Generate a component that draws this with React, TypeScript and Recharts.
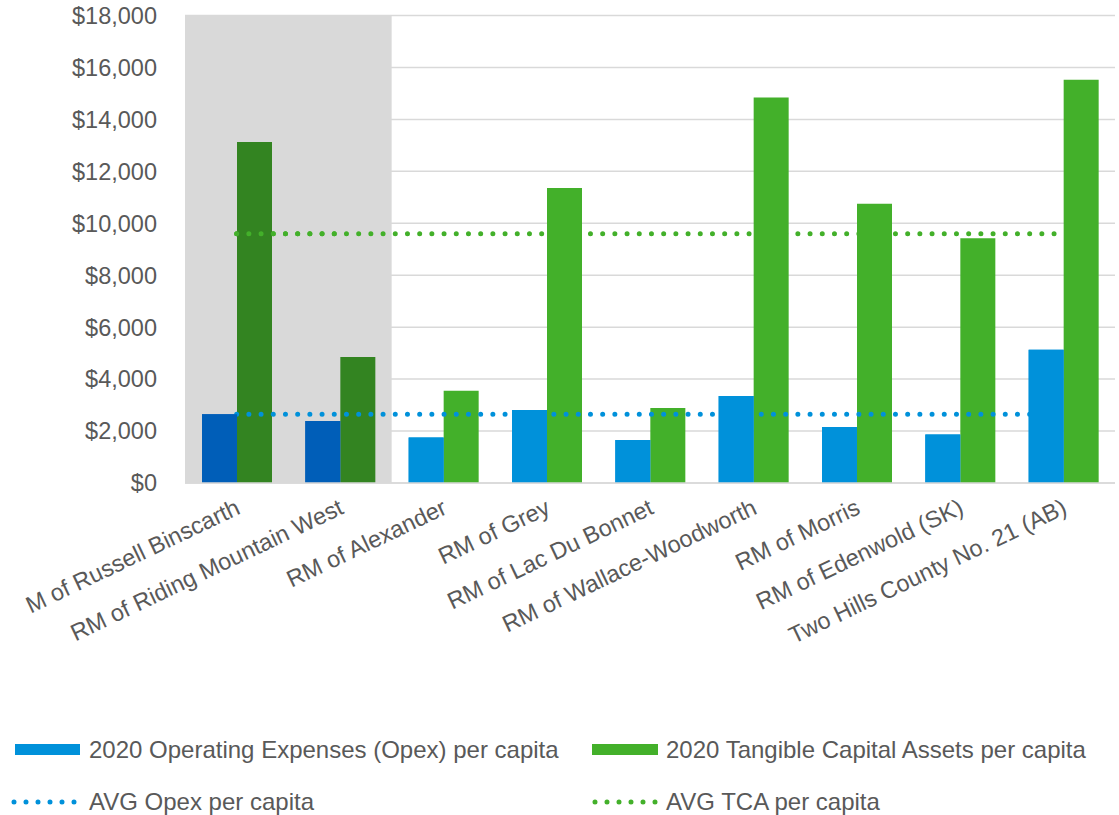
import {
  ComposedChart, Bar, Line, XAxis, YAxis, CartesianGrid, ReferenceArea, Legend, Cell
} from 'recharts';

const CATEGORIES = [
  'M of Russell Binscarth',
  'RM of Riding Mountain West',
  'RM of Alexander',
  'RM of Grey',
  'RM of Lac Du Bonnet',
  'RM of Wallace-Woodworth',
  'RM of Morris',
  'RM of Edenwold (SK)',
  'Two Hills County No. 21 (AB)',
];
const OPEX = [2650, 2390, 1750, 2810, 1660, 3350, 2160, 1870, 5130];
const TCA = [13130, 4850, 3550, 11360, 2890, 14840, 10750, 9420, 15530];
const AVG_OPEX = 2645;
const AVG_TCA = 9600;
const HIGHLIGHTED = [true, true, false, false, false, false, false, false, false];
const Y_TICKS = [0, 2000, 4000, 6000, 8000, 10000, 12000, 14000, 16000, 18000];

const SERIES_NAMES = {
  opex: '2020 Operating Expenses (Opex) per capita',
  tca: '2020 Tangible Capital Assets per capita',
  avgOpex: 'AVG Opex per capita',
  avgTca: 'AVG TCA per capita',
};

const BLUE = '#0091da';
const BLUE_DARK = '#005eb8';
const GREEN = '#43b02a';
const GREEN_DARK = '#338421';
const TEXT = '#595959';
const GRID = '#d9d9d9';
const FONT = '"Liberation Sans", Arial, sans-serif';

const data = CATEGORIES.map((name, i) => ({
  name,
  opex: OPEX[i],
  tca: TCA[i],
  avgOpex: AVG_OPEX,
  avgTca: AVG_TCA,
  avgTcaHl: HIGHLIGHTED[i] ? AVG_TCA : null,
}));

const fmt = (v: number) => `$${v.toLocaleString('en-US')}`;

function CategoryTick({ x, y, payload }: any) {
  const ax = x + 5;
  const ay = y + 30;
  return (
    <text x={ax} y={ay} transform={`rotate(-25.5, ${ax}, ${ay})`} textAnchor="end"
      fill={TEXT} fontSize={23.5} fontFamily={FONT}>
      {payload.value}
    </text>
  );
}

const Dots = ({ color }: { color: string }) => (
  <svg width={66} height={10} style={{ position: 'absolute', left: 0, top: 10 }}>
    <line x1={3} y1={5} x2={66} y2={5} stroke={color} strokeWidth={5}
      strokeDasharray="0 12" strokeLinecap="round" />
  </svg>
);

function ChartLegend() {
  const item = (left: number, top: number, icon: React.ReactNode, label: string, textLeft: number) => (
    <div style={{ position: 'absolute', left, top, height: 30, width: 520 }}>
      {icon}
      <span style={{ position: 'absolute', left: textLeft, top: 0, lineHeight: '30px', fontSize: 24, color: TEXT, whiteSpace: 'nowrap' }}>
        {label}
      </span>
    </div>
  );
  return (
    <div style={{ position: 'relative', width: 1119, height: 80, fontFamily: FONT }}>
      {item(15, 0, <div style={{ position: 'absolute', left: 0, top: 9, width: 65, height: 11, background: BLUE }} />, SERIES_NAMES.opex, 74)}
      {item(592, 0, <div style={{ position: 'absolute', left: 0, top: 9, width: 66, height: 11, background: GREEN }} />, SERIES_NAMES.tca, 74)}
      {item(11, 52, <Dots color={BLUE} />, SERIES_NAMES.avgOpex, 78)}
      {item(592, 52, <Dots color={GREEN} />, SERIES_NAMES.avgTca, 74)}
    </div>
  );
}

export default function App() {
  return (
    <div style={{ position: 'absolute', left: 0, top: 0 }}>
      <ComposedChart width={1119} height={815} data={data}
        margin={{ top: 15.5, right: 4, left: 0, bottom: 0 }}
        barGap={0} barSize={35} style={{ fontFamily: FONT }}>
        <CartesianGrid vertical={false} stroke={GRID} strokeWidth={1.5} />
        <ReferenceArea x1={CATEGORIES[0]} x2={CATEGORIES[1]} fill={GRID} fillOpacity={1} stroke="none" />
        <XAxis dataKey="name" interval={0} height={252} tickSize={0} tickMargin={0}
          axisLine={{ stroke: GRID, strokeWidth: 1.5 }} tickLine={false} tick={<CategoryTick />} />
        <XAxis xAxisId="ov" dataKey="name" hide />
        <YAxis domain={[0, 18000]} ticks={Y_TICKS} tickFormatter={fmt} width={185}
          axisLine={false} tickLine={false} tickSize={0} tickMargin={28}
          tick={{ fill: TEXT, fontSize: 23.5, fontFamily: FONT }} />
        <Legend verticalAlign="bottom" content={() => <ChartLegend />}
          wrapperStyle={{ left: 0, bottom: 0, width: 1119, height: 80 }} />

        <Line dataKey="avgTca" name={SERIES_NAMES.avgTca} stroke={GREEN} strokeWidth={5}
          strokeDasharray="0 12.2" strokeLinecap="round" dot={false} activeDot={false}
          isAnimationActive={false} zIndex={290} />
        <Bar dataKey="opex" name={SERIES_NAMES.opex} fill={BLUE} isAnimationActive={false} zIndex={300}>
          {data.map((d, i) => <Cell key={d.name} fill={HIGHLIGHTED[i] ? BLUE_DARK : BLUE} />)}
        </Bar>
        <Bar dataKey="tca" name={SERIES_NAMES.tca} fill={GREEN} isAnimationActive={false} zIndex={300}>
          {data.map((d, i) => <Cell key={d.name} fill={HIGHLIGHTED[i] ? GREEN_DARK : GREEN} />)}
        </Bar>
        <Line dataKey="avgOpex" name={SERIES_NAMES.avgOpex} stroke={BLUE} strokeWidth={5}
          strokeDasharray="0 12.2" strokeLinecap="round" dot={false} activeDot={false}
          isAnimationActive={false} zIndex={310} />
        <Bar xAxisId="ov" dataKey="opex" legendType="none" isAnimationActive={false} zIndex={320}>
          {data.map((d, i) => <Cell key={d.name} fill={HIGHLIGHTED[i] ? BLUE_DARK : BLUE} />)}
        </Bar>
        <Bar xAxisId="ov" dataKey="tca" legendType="none" fill="none" isAnimationActive={false} zIndex={320} />
        <Line dataKey="avgTcaHl" legendType="none" stroke={GREEN} strokeWidth={5}
          strokeDasharray="0 12.2" strokeLinecap="round" dot={false} activeDot={false}
          isAnimationActive={false} zIndex={330} />
      </ComposedChart>
    </div>
  );
}
